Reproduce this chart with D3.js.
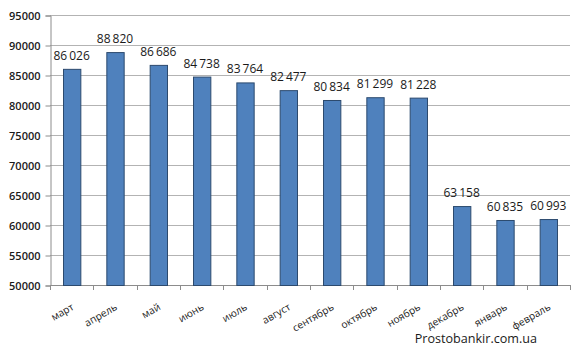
<!DOCTYPE html>
<html>
<head>
<meta charset="utf-8">
<script src="https://cdn.jsdelivr.net/npm/d3@7"></script>
<style>
  html, body { margin: 0; padding: 0; background: #fff; }
  svg { display: block; }
</style>
</head>
<body>
<svg id="chart" width="576" height="348"></svg>
<script>
// Monthly values
const months = ["март", "апрель", "май", "июнь", "июль", "август", "сентябрь", "октябрь", "ноябрь", "декабрь", "январь", "февраль"];
const values = [86026, 88820, 86686, 84738, 83764, 82477, 80834, 81299, 81228, 63158, 60835, 60993];
const yTicks = [50000, 55000, 60000, 65000, 70000, 75000, 80000, 85000, 90000, 95000];

const svg = d3.select("#chart");
const plotLeft = 50, plotRight = 570, plotTop = 15, plotBottom = 285;
const font = "'Open Sans', 'Liberation Sans', sans-serif";

const x = d3.scaleBand().domain(months).range([plotLeft, plotRight]).paddingInner(0.6).paddingOuter(0.3);
const y = d3.scaleLinear().domain([50000, 95000]).range([plotBottom, plotTop]);

// Horizontal gridlines
svg.append("g").selectAll("line").data(yTicks.slice(1)).join("line")
  .attr("x1", plotLeft).attr("x2", plotRight)
  .attr("y1", d => Math.round(y(d)) + 0.5).attr("y2", d => Math.round(y(d)) + 0.5)
  .attr("stroke", "#b3b3b3").attr("stroke-width", 1);

// Y axis
const yAxis = svg.append("g").attr("transform", `translate(${plotLeft + 0.5},0.5)`)
  .call(d3.axisLeft(y).tickValues(yTicks).tickFormat(d3.format("d")).tickSize(5).tickPadding(5));
yAxis.select(".domain").attr("stroke", "#8c8c8c");
yAxis.selectAll(".tick line").attr("stroke", "#8c8c8c");
yAxis.selectAll("text").attr("font-family", font).attr("font-size", 11).attr("font-weight", 600).attr("fill", "#1a1a1a");

// X axis with ticks at category boundaries
const bounds = d3.range(months.length + 1).map(i => plotLeft + i * (plotRight - plotLeft) / months.length);
const xg = svg.append("g");
xg.append("line").attr("x1", plotLeft).attr("x2", plotRight)
  .attr("y1", plotBottom + 0.5).attr("y2", plotBottom + 0.5).attr("stroke", "#8c8c8c");
xg.selectAll("line.t").data(bounds).join("line").attr("class", "t")
  .attr("x1", d => Math.round(d) + 0.5).attr("x2", d => Math.round(d) + 0.5)
  .attr("y1", plotBottom).attr("y2", plotBottom + 5).attr("stroke", "#8c8c8c");

// Bars
svg.append("g").selectAll("rect").data(values).join("rect")
  .attr("x", (d, i) => x(months[i]) + 0.5)
  .attr("y", d => y(d) + 0.5)
  .attr("width", x.bandwidth())
  .attr("height", d => plotBottom - y(d))
  .attr("fill", "#4f81bd").attr("stroke", "#2c4a6e").attr("stroke-width", 1);

// Value labels
const fmt = v => d3.format(",")(v).replace(",", "\u2009");
svg.append("g").selectAll("text").data(values).join("text")
  .attr("x", (d, i) => x(months[i]) + x.bandwidth() / 2)
  .attr("y", d => y(d) - 9)
  .attr("text-anchor", "middle")
  .attr("font-family", font).attr("font-size", 12).attr("fill", "#1a1a1a")
  .text(fmt);

// Month labels, rotated
svg.append("g").selectAll("text").data(months).join("text")
  .attr("transform", d => `translate(${x(d) + x.bandwidth() / 2 + 3},${plotBottom + 24}) rotate(-30)`)
  .attr("text-anchor", "end")
  .attr("font-family", font).attr("font-size", 10.2).attr("fill", "#1a1a1a")
  .text(d => d);

// Source
svg.append("text").attr("x", 537).attr("y", 343).attr("text-anchor", "end")
  .attr("font-family", font).attr("font-size", 12.6).attr("fill", "#1a1a1a")
  .text("Prostobankir.com.ua");
</script>
</body>
</html>
